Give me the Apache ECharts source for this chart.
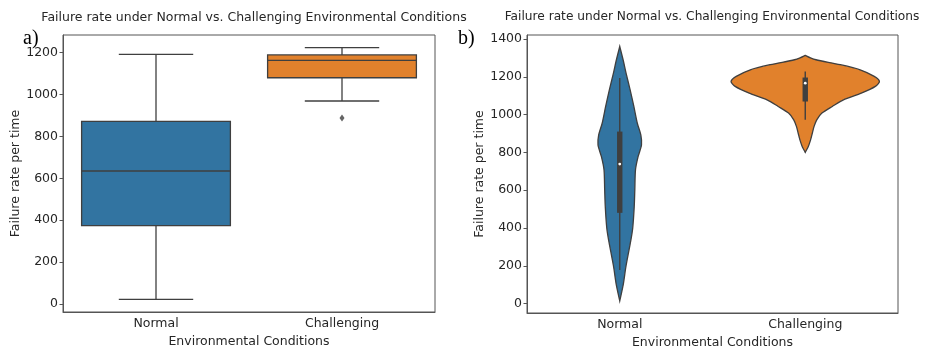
<!DOCTYPE html>
<html>
<head>
<meta charset="utf-8">
<script src="https://cdn.jsdelivr.net/npm/echarts@6/dist/echarts.min.js"></script>
<style>
html, body { margin: 0; padding: 0; background: #fff; }
#chart { width: 927px; height: 349px; }
</style>
</head>
<body>
<div id="chart"></div>
<script>
var categories = ['Normal', 'Challenging'];
var yTicksA = [0, 200, 400, 600, 800, 1000, 1200];
var yTicksB = [0, 200, 400, 600, 800, 1000, 1200, 1400];

// box plot (a): low whisker, q1, median, q3, high whisker
var boxNormal = [22, 374, 635, 872, 1192];
var boxChallenging = [969, 1080, 1163, 1189, 1224];
var outliers = [[1, 888]];

// violin (b): inner box stats
var innerNormal = [177, 480, 738, 910, 1193];
var innerChallenging = [972, 1069, 1166, 1196, 1228];

// violin outlines: value and relative half width (1 = widest violin)
var violinNormalY = [1360, 1290, 1219, 1131, 1043, 954, 892, 839, 777, 707, 601, 512, 400, 336, 200, 100, 14];
var violinNormalW = [0, 0.045, 0.085, 0.14, 0.19, 0.237, 0.284, 0.293, 0.247, 0.212, 0.203, 0.195, 0.175, 0.15, 0.085, 0.047, 0];
var violinChallengingY = [1313, 1300, 1290, 1264, 1237, 1202, 1175, 1149, 1113, 1078, 1043, 1008, 972, 936, 901, 866, 830, 800];
var violinChallengingW = [0, 0.07, 0.145, 0.47, 0.74, 0.93, 1, 0.945, 0.755, 0.515, 0.365, 0.225, 0.155, 0.118, 0.095, 0.072, 0.04, 0];

var colors = ['#3274a1', '#e1812c'];
var lineColor = '#3f3f3f';
var font = 'DejaVu Sans';
var fs = 12.5;

var chart = echarts.init(document.getElementById('chart'));

function renderBox(params, api) {
	var c = api.value(0);
	var lo = api.coord([c, api.value(1)]);
	var q1 = api.coord([c, api.value(2)]);
	var md = api.coord([c, api.value(3)]);
	var q3 = api.coord([c, api.value(4)]);
	var hi = api.coord([c, api.value(5)]);
	var band = api.size([1, 0])[0];
	var hw = band * 0.4, cw = band * 0.2;
	var x = lo[0];
	var ls = { stroke: lineColor, lineWidth: 1.3 };
	return {
		type: 'group',
		children: [
			{ type: 'line', shape: { x1: x, y1: lo[1], x2: x, y2: q1[1] }, style: ls },
			{ type: 'line', shape: { x1: x, y1: q3[1], x2: x, y2: hi[1] }, style: ls },
			{ type: 'line', shape: { x1: x - cw, y1: lo[1], x2: x + cw, y2: lo[1] }, style: ls },
			{ type: 'line', shape: { x1: x - cw, y1: hi[1], x2: x + cw, y2: hi[1] }, style: ls },
			{ type: 'rect', shape: { x: x - hw, y: q3[1], width: hw * 2, height: q1[1] - q3[1] },
				style: { fill: colors[c], stroke: lineColor, lineWidth: 1.3 } },
			{ type: 'line', shape: { x1: x - hw, y1: md[1], x2: x + hw, y2: md[1] }, style: ls }
		]
	};
}

function renderViolin(params, api) {
	var c = api.value(0);
	var ys = c === 0 ? violinNormalY : violinChallengingY;
	var ws = c === 0 ? violinNormalW : violinChallengingW;
	var band = api.size([1, 0])[0];
	var maxHalf = band * 0.4;
	var cx = api.coord([c, 0])[0];
	var pts = [];
	var i, p;
	for (i = 0; i < ys.length; i++) {
		p = api.coord([c, ys[i]]);
		pts.push([cx + ws[i] * maxHalf, p[1]]);
	}
	for (i = ys.length - 1; i >= 0; i--) {
		p = api.coord([c, ys[i]]);
		pts.push([cx - ws[i] * maxHalf, p[1]]);
	}
	var lo = api.coord([c, api.value(1)]);
	var q1 = api.coord([c, api.value(2)]);
	var md = api.coord([c, api.value(3)]);
	var q3 = api.coord([c, api.value(4)]);
	var hi = api.coord([c, api.value(5)]);
	return {
		type: 'group',
		children: [
			{ type: 'polygon', shape: { points: pts, smooth: 0.25 },
				style: { fill: colors[c], stroke: lineColor, lineWidth: 1.3 } },
			{ type: 'line', shape: { x1: cx, y1: lo[1], x2: cx, y2: hi[1] },
				style: { stroke: lineColor, lineWidth: 1.4 } },
			{ type: 'rect', shape: { x: cx - 2.7, y: q3[1], width: 5.4, height: q1[1] - q3[1] },
				style: { fill: lineColor } },
			{ type: 'circle', shape: { cx: cx, cy: md[1], r: 1.4 }, style: { fill: '#fff' } }
		]
	};
}

function xAxisFor(gridIndex) {
	return {
		type: 'category',
		gridIndex: gridIndex,
		data: categories,
		name: 'Environmental Conditions',
		nameLocation: 'middle',
		nameGap: 21,
		nameTextStyle: { color: '#262626', fontSize: fs, fontFamily: font },
		axisLine: { onZero: false, lineStyle: { color: '#555', width: 1 } },
		axisTick: { alignWithLabel: true, length: 3.5, lineStyle: { color: '#555' } },
		axisLabel: { color: '#262626', fontSize: fs, fontFamily: font, margin: 5 },
		splitLine: { show: false }
	};
}

function yAxisFor(gridIndex, min, max, ticks, gap) {
	return {
		type: 'value',
		gridIndex: gridIndex,
		min: min,
		max: max,
		name: 'Failure rate per time',
		nameLocation: 'middle',
		nameRotate: 90,
		nameGap: gap,
		nameTextStyle: { color: '#262626', fontSize: fs, fontFamily: font },
		axisLine: { show: true, onZero: false, lineStyle: { color: '#555', width: 1 } },
		axisTick: { show: true, length: 3.5, customValues: ticks, lineStyle: { color: '#555' } },
		axisLabel: { color: '#262626', fontSize: fs, fontFamily: font, margin: 5, customValues: ticks,
			formatter: function (v) { return String(v); } },
		splitLine: { show: false }
	};
}

var option = {
	backgroundColor: '#fff',
	animation: false,
	title: [
		{ text: 'Failure rate under Normal vs. Challenging Environmental Conditions', left: 249, top: 6, textAlign: 'center',
			textStyle: { fontSize: fs, fontWeight: 'normal', color: '#262626', fontFamily: font } },
		{ text: 'Failure rate under Normal vs. Challenging Environmental Conditions', left: 707, top: 6, textAlign: 'center',
			textStyle: { fontSize: 12.2, fontWeight: 'normal', color: '#262626', fontFamily: font } },
		{ text: 'a)', left: 18, top: 24, textStyle: { fontSize: 20, fontWeight: 'normal', color: '#000', fontFamily: 'Liberation Serif' } },
		{ text: 'b)', left: 453, top: 24, textStyle: { fontSize: 20, fontWeight: 'normal', color: '#000', fontFamily: 'Liberation Serif' } }
	],
	grid: [
		{ left: 63, top: 35, width: 372, height: 277, show: true, borderColor: '#555', borderWidth: 1, outerBoundsMode: 'none' },
		{ left: 527, top: 35, width: 371, height: 278, show: true, borderColor: '#555', borderWidth: 1, outerBoundsMode: 'none' }
	],
	xAxis: [xAxisFor(0), xAxisFor(1)],
	yAxis: [yAxisFor(0, -38, 1284, yTicksA, 40), yAxisFor(1, -50, 1421, yTicksB, 40)],
	series: [
		{
			type: 'custom',
			xAxisIndex: 0,
			yAxisIndex: 0,
			renderItem: renderBox,
			encode: { x: 0, y: [1, 2, 3, 4, 5] },
			data: [[0].concat(boxNormal), [1].concat(boxChallenging)]
		},
		{
			type: 'scatter',
			xAxisIndex: 0,
			yAxisIndex: 0,
			symbol: 'diamond',
			symbolSize: [5, 7],
			itemStyle: { color: lineColor },
			data: outliers
		},
		{
			type: 'custom',
			xAxisIndex: 1,
			yAxisIndex: 1,
			renderItem: renderViolin,
			encode: { x: 0, y: [1, 2, 3, 4, 5] },
			data: [[0].concat(innerNormal), [1].concat(innerChallenging)]
		}
	]
};
chart.setOption(option);
</script>
</body>
</html>
